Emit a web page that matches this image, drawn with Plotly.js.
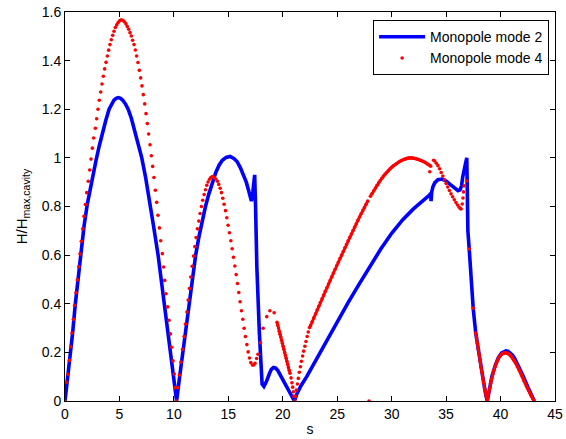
<!DOCTYPE html>
<html>
<head>
<meta charset="utf-8">
<script src="https://cdn.plot.ly/plotly-3.0.1.min.js"></script>
<style>html,body{margin:0;padding:0;background:#fff;}#chart{width:566px;height:439px;}</style>
</head>
<body>
<div id="chart"></div>
<script>
// Monopole mode 2 (solid blue line)
const mode2S = [0,0.25,0.55,0.7,0.95,1.25,1.45,1.75,2.05,2.45,2.85,3.15,3.4,3.75,4.05,4.3,4.5,4.7,4.9,5.1,5.3,5.55,5.8,6.1,6.4,6.7,7.05,7.4,7.75,8.15,8.55,9.1,9.6,9.95,10.25,10.5,10.85,11.4,11.7,12.0,12.3,12.6,12.9,13.2,13.5,13.85,14.15,14.45,14.8,15.15,15.5,15.8,16.1,16.4,16.65,16.9,17.12,17.25,17.42,17.5,17.62,17.85,18.1,18.27,18.5,18.75,18.95,19.15,19.35,19.55,19.85,20.25,20.6,20.9,21.07,21.3,21.7,22.2,23.0,24.0,25.0,26.0,27.0,28.0,29.0,30.0,31.0,32.0,33.0,33.5,33.58,33.62,33.68,33.78,33.95,34.25,34.6,35.0,35.4,35.8,36.1,36.28,36.42,36.52,36.62,36.72,36.82,36.9,36.95,37.0,37.13,37.3,37.49,37.72,37.98,38.2,38.45,38.65,38.78,38.95,39.2,39.5,39.8,40.1,40.3,40.5,40.7,40.9,41.1,41.3,41.7,42.1,42.5,42.8,43.1];
const mode2H = [0,0.1,0.2,0.28,0.4,0.53,0.61,0.72,0.81,0.905,0.99,1.05,1.1,1.155,1.2,1.224,1.237,1.245,1.248,1.245,1.237,1.222,1.2,1.162,1.115,1.065,1.0,0.92,0.83,0.715,0.6,0.4,0.22,0.1,0,0.09,0.21,0.41,0.51,0.6,0.675,0.74,0.8,0.85,0.895,0.94,0.97,0.99,1.002,1.006,0.998,0.985,0.96,0.93,0.9,0.86,0.822,0.86,0.93,0.8,0.55,0.28,0.07,0.06,0.08,0.11,0.13,0.138,0.135,0.125,0.1,0.065,0.035,0.01,0,0.03,0.065,0.1,0.165,0.245,0.325,0.405,0.48,0.555,0.625,0.69,0.745,0.79,0.828,0.848,0.855,0.822,0.86,0.88,0.897,0.91,0.913,0.905,0.89,0.874,0.865,0.868,0.885,0.92,0.95,0.955,0.985,1.0,0.85,0.7,0.62,0.48,0.38,0.28,0.2,0.14,0.075,0.025,0,0.04,0.1,0.145,0.178,0.198,0.204,0.206,0.204,0.198,0.188,0.175,0.14,0.1,0.058,0.027,0];

// Monopole mode 4 (red dots)
const mode4S = [0,0.12,0.28,0.40,0.52,0.64,0.77,0.89,1.01,1.13,1.26,1.38,1.50,1.62,1.74,1.87,1.99,2.14,2.27,2.39,2.51,2.63,2.79,2.91,3.03,3.15,3.28,3.40,3.52,3.64,3.77,3.89,4.01,4.13,4.25,4.38,4.50,4.62,4.75,4.87,4.99,5.11,5.23,5.36,5.48,5.60,5.72,5.85,5.97,6.09,6.21,6.34,6.46,6.58,6.70,6.83,6.95,7.07,7.19,7.32,7.44,7.56,7.68,7.81,7.93,8.05,8.17,8.30,8.42,8.54,8.67,8.79,8.94,9.06,9.16,9.28,9.43,9.55,9.68,9.80,9.92,10.04,10.12,10.22,10.36,10.5,10.64,10.8,10.94,11.06,11.19,11.31,11.43,11.55,11.68,11.8,11.92,12.04,12.16,12.29,12.41,12.53,12.65,12.78,12.9,13.02,13.14,13.27,13.39,13.54,13.7,13.85,14.0,14.12,14.25,14.37,14.49,14.61,14.74,14.86,14.98,15.1,15.23,15.35,15.47,15.6,15.72,15.84,15.96,16.08,16.2,16.33,16.45,16.57,16.7,16.82,16.94,17.06,17.21,17.33,17.45,17.6,17.72,17.95,18.2,18.53,18.81,19.21,19.47,19.54,19.61,19.68,19.75,19.82,19.89,19.96,20.03,20.1,20.17,20.24,20.31,20.38,20.45,20.52,20.59,20.66,20.76,20.84,20.91,20.98,21.03,21.08,21.15,21.25,21.34,21.43,21.52,21.62,21.71,21.82,21.92,22.03,22.13,22.24,22.34,22.45,22.55,22.7,22.85,23.0,23.15,23.3,23.45,23.6,23.75,23.9,24.05,24.2,24.35,24.5,24.65,24.8,24.95,25.1,25.25,25.4,25.55,25.7,25.85,26.0,26.15,26.3,26.45,26.6,26.75,26.9,27.05,27.2,27.35,27.5,27.65,27.8,27.92,28.05,28.2,28.35,28.5,28.65,28.8,28.95,29.1,29.25,29.4,29.55,29.7,29.85,30.0,30.15,30.3,30.45,30.6,30.75,30.9,31.05,31.2,31.35,31.5,31.65,31.8,31.95,32.1,32.25,32.4,32.55,32.7,32.85,33.0,33.15,33.3,33.45,33.58,33.5,33.85,33.95,34.1,34.25,34.4,34.55,34.7,34.85,35.0,35.15,35.3,35.45,35.6,35.75,35.9,36.05,36.2,36.3,36.38,36.48,36.55,36.6,36.65,36.88,37.13,37.49,37.72,37.8,37.88,37.96,38.04,38.12,38.2,38.28,38.36,38.44,38.52,38.6,38.68,38.78,38.88,38.98,39.08,39.18,39.28,39.38,39.48,39.58,39.68,39.78,39.88,39.98,40.08,40.18,40.28,40.38,40.48,40.58,40.68,40.78,40.88,40.98,41.08,41.18,41.28,41.38,41.48,41.58,41.68,41.78,41.88,41.98,42.08,42.18,42.28,42.38,42.48,42.58,42.68,42.78,42.88,42.98,43.08];
const mode4H = [0,0.077,0.11,0.167,0.223,0.28,0.336,0.394,0.445,0.498,0.552,0.605,0.657,0.708,0.76,0.808,0.857,0.904,0.95,0.995,1.04,1.082,1.122,1.161,1.2,1.237,1.271,1.304,1.336,1.366,1.393,1.419,1.443,1.466,1.486,1.504,1.521,1.536,1.547,1.556,1.563,1.567,1.567,1.564,1.559,1.551,1.54,1.529,1.515,1.501,1.484,1.466,1.444,1.419,1.392,1.36,1.329,1.296,1.26,1.222,1.182,1.141,1.098,1.054,1.009,0.965,0.919,0.867,0.817,0.764,0.712,0.659,0.606,0.551,0.496,0.441,0.387,0.332,0.276,0.221,0.165,0.111,0.055,0,0.055,0.107,0.16,0.213,0.265,0.317,0.366,0.415,0.463,0.51,0.554,0.596,0.635,0.672,0.708,0.74,0.771,0.8,0.826,0.849,0.869,0.887,0.901,0.912,0.919,0.923,0.92,0.913,0.904,0.891,0.875,0.857,0.834,0.809,0.783,0.754,0.723,0.692,0.659,0.626,0.591,0.555,0.52,0.483,0.446,0.408,0.371,0.336,0.299,0.265,0.232,0.202,0.177,0.158,0.148,0.148,0.155,0.175,0.192,0.24,0.299,0.347,0.371,0.363,0.324,0.312,0.3,0.287,0.275,0.263,0.25,0.238,0.225,0.213,0.2,0.188,0.176,0.163,0.151,0.138,0.126,0.114,0.095,0.075,0.057,0.038,0.02,0,0.018,0.045,0.07,0.093,0.118,0.141,0.163,0.185,0.205,0.225,0.245,0.265,0.284,0.302,0.31,0.326,0.342,0.358,0.374,0.39,0.405,0.42,0.436,0.451,0.466,0.481,0.496,0.511,0.526,0.541,0.556,0.571,0.586,0.6,0.615,0.63,0.644,0.659,0.673,0.687,0.701,0.715,0.729,0.743,0.757,0.77,0.783,0.796,0.809,0.822,0,0.842,0.853,0.865,0.876,0.887,0.897,0.907,0.916,0.925,0.933,0.941,0.948,0.955,0.961,0.967,0.972,0.977,0.982,0.986,0.989,0.992,0.995,0.997,0.999,1.0,1.0,0.999,0.998,0.996,0.994,0.992,0.989,0.986,0.983,0.979,0.975,0.971,0.966,0.943,0.99,0.987,0.978,0.968,0.955,0.94,0.925,0.91,0.895,0.88,0.866,0.852,0.84,0.828,0.816,0.806,0.797,0.792,0.79,0.81,0.835,0.86,0.885,0.905,0.625,0.382,0.28,0.26,0.237,0.213,0.19,0.165,0.14,0.118,0.095,0.075,0.055,0.038,0.02,0,0.025,0.05,0.072,0.092,0.11,0.126,0.14,0.153,0.164,0.173,0.181,0.187,0.192,0.195,0.197,0.198,0.198,0.197,0.195,0.192,0.188,0.183,0.177,0.171,0.164,0.156,0.148,0.139,0.13,0.121,0.111,0.101,0.091,0.081,0.071,0.061,0.051,0.042,0.033,0.024,0.016,0.008,0];

// runs of mode 4 where the mesh dots are so dense that they merge into a line
const mode4DenseRuns = [[19.4, 20.7], [22.5, 27.85], [28.0, 33.59], [37.7, 43.1]];

const seriesNames = ['Monopole mode 2', 'Monopole mode 4'];
const xTitle = 's';
const yTitle = 'H/H<sub>max,cavity</sub>';

const font = {family: 'Liberation Sans, Arial, Helvetica, sans-serif', size: 14, color: '#000'};
const yTitleFont = {family: 'Liberation Sans, Arial, Helvetica, sans-serif', size: 15, color: '#000'};

function runOf(xs, ys, lo, hi) {
  const rx = [], ry = [];
  let started = false;
  for (let i = 0; i < xs.length; i++) {
    const inside = xs[i] >= lo && xs[i] <= hi;
    if (inside && (!started || xs[i] > rx[rx.length - 1])) {
      started = true; rx.push(xs[i]); ry.push(ys[i]);
    } else if (started) break;
  }
  return {x: rx, y: ry};
}

const traces = [
  {x: mode2S, y: mode2H, name: seriesNames[0], type: 'scatter', mode: 'lines',
   line: {color: '#0000ff', width: 3.6}}
];
mode4DenseRuns.forEach(function (r) {
  const seg = runOf(mode4S, mode4H, r[0], r[1]);
  traces.push({x: seg.x, y: seg.y, type: 'scatter', mode: 'lines', showlegend: false,
               hoverinfo: 'skip', line: {color: '#ff0000', width: 2.8}});
});
traces.push({x: mode4S, y: mode4H, name: seriesNames[1], type: 'scatter', mode: 'markers',
             marker: {color: '#ff0000', size: 3.6}});

const axisCommon = {
  showgrid: false, zeroline: false, showline: true, linecolor: '#000', linewidth: 1,
  mirror: 'ticks', ticks: 'inside', ticklen: 5, tickcolor: '#000', tickwidth: 1,
  tickfont: font
};

const layout = {
  width: 566, height: 439,
  margin: {l: 65, r: 11, t: 12, b: 38},
  paper_bgcolor: '#fff', plot_bgcolor: '#fff',
  font: font,
  showlegend: true,
  legend: {x: 0.988, xanchor: 'right', y: 0.979, yanchor: 'top', itemwidth: 46,
           bordercolor: '#000', borderwidth: 1, bgcolor: '#fff', font: font,
           tracegroupgap: 0},
  xaxis: Object.assign({}, axisCommon, {range: [0, 45], tick0: 0, dtick: 5,
          title: {text: xTitle, font: font, standoff: 3}}),
  yaxis: Object.assign({}, axisCommon, {range: [0, 1.6], tick0: 0, dtick: 0.2,
          title: {text: yTitle, font: yTitleFont, standoff: 10}})
};

Plotly.newPlot('chart', traces, layout, {displayModeBar: false, staticPlot: true});
</script>
</body>
</html>
